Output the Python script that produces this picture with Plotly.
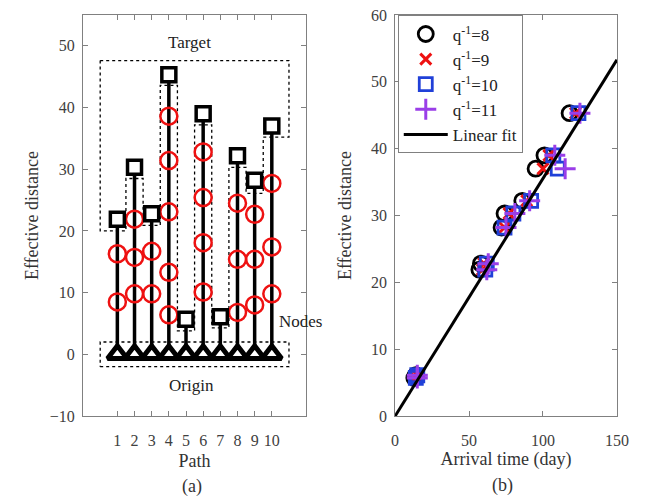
import plotly.graph_objects as go

# ---- panel (a): paths ----
paths = [1, 2, 3, 4, 5, 6, 7, 8, 9, 10]
targets = [21.9, 30.3, 22.8, 45.3, 5.7, 39.0, 6.1, 32.2, 28.2, 37.0]
origins = [0, 0, 0, 0, 0, 0, 0, 0, 0, 0]
node_path = [1, 1, 2, 2, 2, 3, 3, 4, 4, 4, 4, 4, 6, 6, 6, 6, 8, 8, 8, 9, 9, 9, 10, 10, 10]
node_dist = [8.5, 16.3, 9.8, 15.7, 21.9, 9.8, 16.7, 6.4, 13.3, 23.1, 31.4, 38.6,
             10.1, 18.1, 25.4, 32.8, 6.8, 15.4, 24.5, 8.0, 15.4, 22.7, 9.8, 17.4, 27.7]

# dotted outlines (target region and origin box)
target_box_x = [0, 11, 11, 9.5, 9.5, 8.5, 8.5, 7.5, 7.5, 6.5, 6.5, 5.5, 5.5, 4.5, 4.5,
                3.5, 3.5, 2.5, 2.5, 1.5, 1.5, 0, 0]
target_box_y = [47.6, 47.6, 35.2, 35.2, 26.1, 26.1, 30.3, 30.3, 4.3, 4.3, 37.2, 37.2, 3.8,
                3.8, 43.6, 43.6, 20.9, 20.9, 28.5, 28.5, 20.0, 20.0, 47.6]
origin_box_x = [0, 11, 11, 0, 0]
origin_box_y = [-2, -2, 2, 2, -2]

# ---- panel (b): arrival time vs effective distance (path order) ----
t_q8 = [57, 74, 58, 118, 13, 101, 14, 86, 72, 95]
t_q9 = [59, 77, 60, 122, 14, 104, 15, 89, 74, 100]
t_q10 = [61, 80, 62, 124, 14, 107, 15, 92, 74, 110]
t_q11 = [62, 81, 63, 125, 15, 108, 15, 91, 75, 115]
fit_x = [0, 150]
fit_y = [0, 53.3]

SERIF = "Liberation Serif"
AX = "#808080"
TICK = "#404040"

fig = go.Figure()

# stems
sx, sy = [], []
for p, t in zip(paths, targets):
    sx += [p, p, None]
    sy += [0, t, None]
fig.add_trace(go.Scatter(x=sx, y=sy, mode="lines", line=dict(color="black", width=3.5),
                         showlegend=False, hoverinfo="skip", xaxis="x", yaxis="y"))

fig.add_trace(go.Scatter(x=target_box_x, y=target_box_y, mode="lines",
                         line=dict(color="black", width=1.3, dash="dot"),
                         showlegend=False, xaxis="x", yaxis="y"))
fig.add_trace(go.Scatter(x=origin_box_x, y=origin_box_y, mode="lines",
                         line=dict(color="black", width=1.3, dash="dot"),
                         showlegend=False, xaxis="x", yaxis="y"))

fig.add_trace(go.Scatter(x=node_path, y=node_dist, mode="markers",
                         marker=dict(symbol="circle-open", size=17, color="#ee1111",
                                     line=dict(width=2.5)),
                         showlegend=False, xaxis="x", yaxis="y"))
fig.add_trace(go.Scatter(x=paths, y=origins, mode="markers",
                         marker=dict(symbol="triangle-up", size=17, color="white",
                                     line=dict(width=5, color="black")),
                         showlegend=False, xaxis="x", yaxis="y"))
fig.add_trace(go.Scatter(x=paths, y=targets, mode="markers",
                         marker=dict(symbol="square", size=14, color="white",
                                     line=dict(width=3.5, color="black")),
                         showlegend=False, xaxis="x", yaxis="y"))

# panel (b)
fig.add_trace(go.Scatter(x=t_q8, y=targets, mode="markers", name="q<sup>-1</sup>=8",
                         marker=dict(symbol="circle-open", size=15, color="black",
                                     line=dict(width=2.8)),
                         xaxis="x2", yaxis="y2"))
fig.add_trace(go.Scatter(x=t_q9, y=targets, mode="markers", name="q<sup>-1</sup>=9",
                         marker=dict(symbol="x-thin-open", size=11, color="#ee1111",
                                     line=dict(width=3, color="#ee1111")),
                         xaxis="x2", yaxis="y2"))
fig.add_trace(go.Scatter(x=t_q10, y=targets, mode="markers", name="q<sup>-1</sup>=10",
                         marker=dict(symbol="square-open", size=13, color="#2040d8",
                                     line=dict(width=2.8)),
                         xaxis="x2", yaxis="y2"))
fig.add_trace(go.Scatter(x=t_q11, y=targets, mode="markers", name="q<sup>-1</sup>=11",
                         marker=dict(symbol="cross-thin-open", size=15, color="#9a3ee8",
                                     line=dict(width=3, color="#9a3ee8")),
                         xaxis="x2", yaxis="y2"))
fig.add_trace(go.Scatter(x=fit_x, y=fit_y, mode="lines", name="Linear fit",
                         line=dict(color="black", width=3),
                         xaxis="x2", yaxis="y2"))

axis_common = dict(showline=True, linecolor=AX, linewidth=1, mirror="ticks",
                   ticks="inside", ticklen=5, tickcolor=AX, showgrid=False, zeroline=False,
                   automargin=False, ticklabeloverflow="allow",
                   tickfont=dict(family=SERIF, size=16, color=TICK))
title_font = dict(family=SERIF, size=18, color="#333333")

# the page body adds an 8px offset, so domains are shifted up/left by 8px
fig.update_layout(
    width=664, height=497,
    margin=dict(l=0, r=0, t=0, b=0),
    paper_bgcolor="white", plot_bgcolor="white",
    font=dict(family=SERIF, color="#222222"),
    xaxis=dict(domain=[0.113, 0.449], range=[-1, 12], tickvals=paths,
               ticklabelstandoff=10,
               title=dict(text="Path", font=title_font, standoff=6),
               anchor="y", **axis_common),
    yaxis=dict(domain=[0.179, 0.986], range=[-10, 55], dtick=10,
               ticklabelstandoff=4,
               title=dict(text="Effective distance", font=title_font, standoff=6),
               anchor="x", **axis_common),
    xaxis2=dict(domain=[0.583, 0.917], range=[0, 150], dtick=50,
                ticklabelstandoff=10,
                title=dict(text="Arrival time (day)", font=title_font, standoff=2),
                anchor="y2", **axis_common),
    yaxis2=dict(domain=[0.179, 0.986], range=[0, 60], dtick=10,
                ticklabelstandoff=4,
                title=dict(text="Effective distance", font=title_font, standoff=14),
                anchor="x2", **axis_common),
    legend=dict(x=0.587, y=0.985, xanchor="left", yanchor="top",
                bgcolor="white", bordercolor=AX, borderwidth=1,
                font=dict(family=SERIF, size=17, color="#222222"),
                tracegroupgap=0, itemwidth=44),
    annotations=[
        dict(text="Target", x=5.2, y=50.5, xref="x", yref="y", showarrow=False,
             font=dict(family=SERIF, size=17, color="#222222")),
        dict(text="Origin", x=5.3, y=-5.0, xref="x", yref="y", showarrow=False,
             font=dict(family=SERIF, size=17, color="#222222")),
        dict(text="Nodes", x=11.7, y=5.3, xref="x", yref="y", showarrow=False,
             font=dict(family=SERIF, size=17, color="#222222")),
        dict(text="(a)", x=0.277, y=0.038, xref="paper", yref="paper",
             xanchor="center", yanchor="middle",
             showarrow=False, font=dict(family=SERIF, size=18, color="#333333")),
        dict(text="(b)", x=0.745, y=0.040, xref="paper", yref="paper",
             xanchor="center", yanchor="middle",
             showarrow=False, font=dict(family=SERIF, size=18, color="#333333")),
    ],
)

fig.write_html("out.html")
